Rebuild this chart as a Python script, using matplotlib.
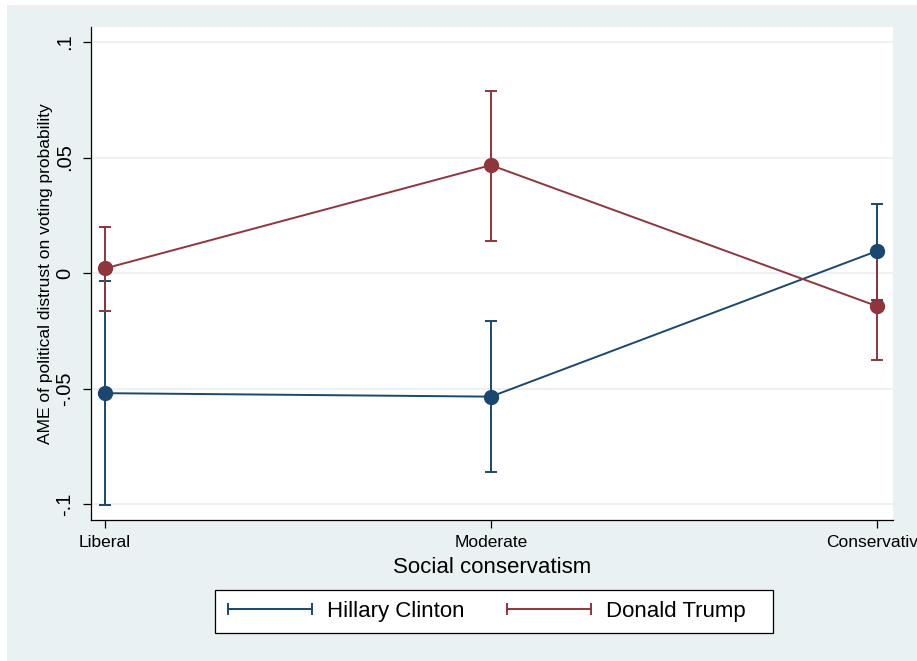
import matplotlib
matplotlib.use("Agg")
import matplotlib.pyplot as plt
from matplotlib.lines import Line2D
from matplotlib.patches import Rectangle

# Average marginal effects by social conservatism, with 95% confidence intervals
categories = ["Liberal", "Moderate", "Conservative"]
positions = [1, 2, 3]

clinton_est = [-0.0520, -0.0535, 0.0095]
clinton_lo = [-0.1002, -0.0860, -0.0115]
clinton_hi = [-0.0035, -0.0207, 0.0298]

trump_est = [0.0020, 0.0467, -0.0143]
trump_lo = [-0.0164, 0.0138, -0.0376]
trump_hi = [0.0199, 0.0786, 0.0090]

y_ticks = [-0.1, -0.05, 0.0, 0.05, 0.1]
y_ticklabels = ["-.1", "-.05", "0", ".05", ".1"]

series_names = ["Hillary Clinton", "Donald Trump"]

NAVY = "#1A476F"
MAROON = "#90353B"
BG = "#EAF1F3"

plt.rcParams["font.family"] = ["Liberation Sans", "DejaVu Sans"]

W, H = 917, 661
fig = plt.figure(figsize=(W / 100, H / 100), dpi=100, facecolor="white")

# graph region background
fig.patches.append(Rectangle((7 / W, 0), 1 - 7 / W, 1 - 5 / H,
                             transform=fig.transFigure, facecolor=BG,
                             edgecolor="none", zorder=-10))

left, right, top, bottom = 91, 893, 27, 520
ax = fig.add_axes([left / W, 1 - bottom / H, (right - left) / W, (bottom - top) / H])
ax.set_facecolor("white")

ax.set_xlim(0.9636, 3.042)
ax.set_ylim(-0.1069, 0.1065)

for yv in y_ticks:
    ax.axhline(yv, color=BG, lw=1.3, zorder=0)

for sp in ["top", "right"]:
    ax.spines[sp].set_visible(False)
for sp in ["left", "bottom"]:
    ax.spines[sp].set_color("black")
    ax.spines[sp].set_linewidth(0.9)

ax.set_xticks(positions)
ax.set_xticklabels(categories, fontsize=12.5)
ax.set_yticks(y_ticks)
ax.set_yticklabels(y_ticklabels, fontsize=14.5, rotation=90, va="center")
ax.tick_params(axis="x", direction="out", length=6, width=0.9, pad=5)
ax.tick_params(axis="y", direction="out", length=6, width=0.9, pad=6)

ax.set_ylabel("AME of political distrust on voting probability", fontsize=12.5)
ax.yaxis.set_label_coords(-0.0475, 0.5)
ax.set_xlabel("Social conservatism", fontsize=16)
ax.xaxis.label.set_va("center")
ax.xaxis.set_label_coords(0.5, -0.097)

lw = 1.4
ms = 10

# confidence intervals
for est, lo, hi, col in [(clinton_est, clinton_lo, clinton_hi, NAVY),
                         (trump_est, trump_lo, trump_hi, MAROON)]:
    yerr = [[e - l for e, l in zip(est, lo)], [h - e for e, h in zip(est, hi)]]
    ax.errorbar(positions, est, yerr=yerr, fmt="none", ecolor=col,
                elinewidth=lw, capsize=4, capthick=lw, zorder=2)

# point estimates connected by lines
for est, col in [(clinton_est, NAVY), (trump_est, MAROON)]:
    ax.plot(positions, est, color=col, lw=lw, marker="o", markersize=ms,
            markerfacecolor=col, markeredgecolor=col, zorder=3)

# legend box
fig.patches.append(Rectangle((215 / W, 1 - 633 / H), (773 - 215) / W, 43 / H,
                             transform=fig.transFigure, facecolor="white",
                             edgecolor="black", linewidth=0.9, zorder=5))

handles = [Line2D([], [], color=NAVY, lw=lw, marker="|", markersize=8, mew=lw),
           Line2D([], [], color=MAROON, lw=lw, marker="|", markersize=8, mew=lw)]
leg = fig.legend(handles, series_names, loc="center left",
                 bbox_to_anchor=(221 / W, 1 - 611.5 / H), ncol=2,
                 numpoints=2, fontsize=16, handlelength=4.39,
                 handletextpad=0.37, columnspacing=1.63, borderpad=0,
                 borderaxespad=0, frameon=False)
leg.set_zorder(6)

fig.savefig("out.png", dpi=100, facecolor="white")
